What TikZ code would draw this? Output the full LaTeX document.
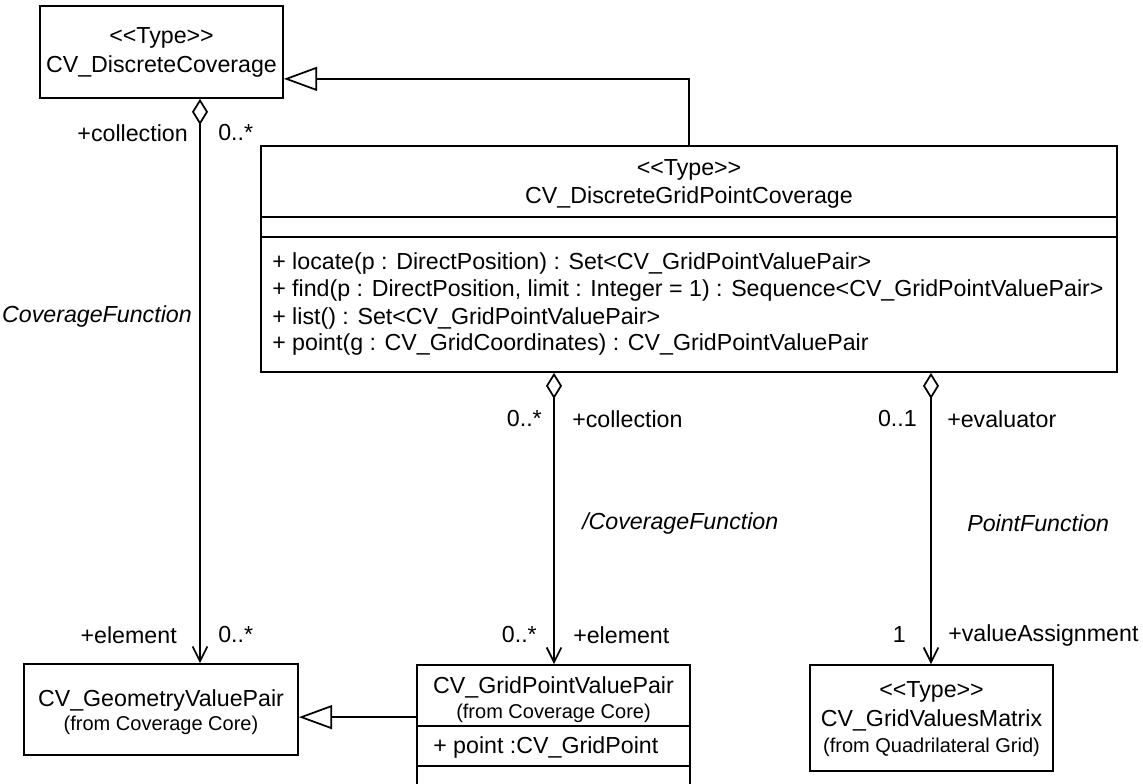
\documentclass[tikz,border=0pt]{standalone}
\usepackage{fontspec}
\setmainfont{Liberation Sans}
\usetikzlibrary{arrows.meta}
\begin{document}
\begin{tikzpicture}[x=0.75pt,y=-0.75pt,
  ink/.style={draw=black, line width=1.3pt},
  classbox/.style={ink, rectangle, inner sep=0pt},
  txt/.style={inner sep=0pt, font=\fontsize{17.4}{21}\selectfont, text=black},
  note/.style={inner sep=0pt, font=\fontsize{15}{18}\selectfont, text=black},
  assocname/.style={inner sep=0pt, font=\fontsize{17.4}{21}\selectfont\itshape, text=black},
  generalization/.style={ink, -{Triangle[open, length=25pt, width=18pt]}},
  aggregation/.style={ink, {Diamond[open, length=19.5pt, width=12pt]}-{Straight Barb[length=11pt, width=11pt]}},
]
\clip (0,0) rectangle (1143,784);
\fill[white] (0,0) rectangle (1143,784);

% class boxes
\node[classbox, minimum width=182.25pt, minimum height=69pt] (dc) at (161.5,52) {};
\node[classbox, minimum width=642pt, minimum height=169.5pt] (dgpc) at (689,259) {};
\node[classbox, minimum width=205.5pt, minimum height=68.25pt] (gvp) at (161,709.5) {};
\node[classbox, minimum width=204.75pt, minimum height=101.25pt] (gpvp) at (553.5,732.5) {};
\node[classbox, minimum width=182.25pt, minimum height=79.5pt] (gvm) at (931.5,718) {};

% compartment separators
\draw[ink] ([yshift=-54pt]dgpc.north west) -- ([yshift=-54pt]dgpc.north east);
\draw[ink] ([yshift=-69pt]dgpc.north west) -- ([yshift=-69pt]dgpc.north east);
\draw[ink] ([yshift=-46.5pt]gpvp.north west) -- ([yshift=-46.5pt]gpvp.north east);
\draw[ink] ([yshift=-76.5pt]gpvp.north west) -- ([yshift=-76.5pt]gpvp.north east);

% class texts
\node[txt] (dcStereo) at (161.5,38) {<{}<Type>{}>};
\node[txt] (dcName) at (161.5,67) {CV\_DiscreteCoverage};

\node[txt] (dgpcStereo) at (689,170) {<{}<Type>{}>};
\node[txt] (dgpcName) at (689,198) {CV\_DiscreteGridPointCoverage};
\node[txt, anchor=west] (opLocate) at (272,264) {+ locate(p : DirectPosition) : Set<CV\_GridPointValuePair>};
\node[txt, anchor=west] (opFind) at (272,291) {+ find(p : DirectPosition, limit : Integer = 1) : Sequence<CV\_GridPointValuePair>};
\node[txt, anchor=west] (opList) at (272,318) {+ list() : Set<CV\_GridPointValuePair>};
\node[txt, anchor=west] (opPoint) at (272,345) {+ point(g : CV\_GridCoordinates) : CV\_GridPointValuePair};

\node[txt] (gvpName) at (161,700) {CV\_GeometryValuePair};
\node[note] (gvpPkg) at (161,725) {(from Coverage Core)};

\node[txt] (gpvpName) at (553.5,687) {CV\_GridPointValuePair};
\node[note] (gpvpPkg) at (553.5,713) {(from Coverage Core)};
\node[txt, anchor=west] (gpvpAttr) at (433,747) {+ point :CV\_GridPoint};

\node[txt] (gvmStereo) at (931.5,692) {<{}<Type>{}>};
\node[txt] (gvmName) at (931.5,720) {CV\_GridValuesMatrix};
\node[note] (gvmPkg) at (931.5,747) {(from Quadrilateral Grid)};

% relationships
\draw[generalization] (dgpc.north) |- ([yshift=15pt]dc.south east);
\draw[generalization] ([yshift=-39.75pt]gpvp.north west) -- ([yshift=-39.75pt]gpvp.north west -| gvp.east);
\draw[aggregation] ([xshift=28.875pt]dc.south) -- ([xshift=28.875pt]dc.south |- gvp.north);
\draw[aggregation] ([xshift=-101.25pt]dgpc.south) -- ([xshift=-101.25pt]dgpc.south |- gpvp.north);
\draw[aggregation] ([xshift=181.5pt]dgpc.south) -- ([xshift=181.5pt]dgpc.south |- gvm.north);

% role names, multiplicities and association names
\node[txt, anchor=east] (rCollA) at (188,133) {+collection};
\node[txt, anchor=west] (mCollA) at (218,133) {0..*};
\node[assocname, anchor=east] (fnA) at (192,317) {CoverageFunction};
\node[txt, anchor=east] (rElemA) at (177,635) {+element};
\node[txt, anchor=west] (mElemA) at (218,635) {0..*};

\node[txt, anchor=east] (mCollB) at (542,419) {0..*};
\node[txt, anchor=west] (rCollB) at (572,419) {+collection};
\node[assocname, anchor=west] (fnB) at (582,523) {/CoverageFunction};
\node[txt, anchor=east] (mElemB) at (537,635) {0..*};
\node[txt, anchor=west] (rElemB) at (573,635) {+element};

\node[txt, anchor=east] (mEval) at (917,419) {0..1};
\node[txt, anchor=west] (rEval) at (947,419) {+evaluator};
\node[assocname, anchor=west] (fnC) at (967,523) {PointFunction};
\node[txt, anchor=east] (mValue) at (906,635) {1};
\node[txt, anchor=west] (rValue) at (948,635) {+valueAssignment};
\end{tikzpicture}
\end{document}
